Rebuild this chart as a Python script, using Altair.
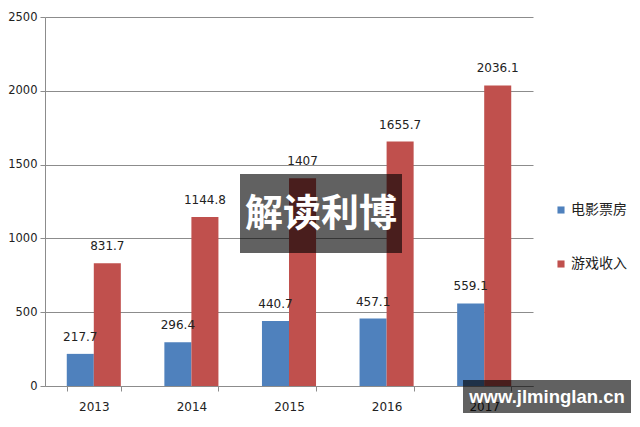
import altair as alt
import pandas as pd

years = ["2013", "2014", "2015", "2016", "2017"]
series = ["电影票房", "游戏收入"]
movie = [217.7, 296.4, 440.7, 457.1, 559.1]
games = [831.7, 1144.8, 1407, 1655.7, 2036.1]
colors = ["#4F81BD", "#C0504D"]
y_ticks = [0, 500, 1000, 1500, 2000, 2500]

rows = []
for i, y in enumerate(years):
    rows.append({"year": y, "series": series[0], "value": movie[i], "label": f"{movie[i]:g}"})
    rows.append({"year": y, "series": series[1], "value": games[i], "label": f"{games[i]:g}"})
df = pd.DataFrame(rows)

FONT = "DejaVu Sans"

x = alt.X("year:N", sort=years, title=None,
          scale=alt.Scale(paddingInner=0.446, paddingOuter=0.223),
          axis=alt.Axis(labelAngle=0, labelFont=FONT, labelFontSize=12, labelColor="#222",
                        domainColor="#8c8c8c", tickColor="#8c8c8c", tickBand="extent",
                        tickSize=5, labelPadding=10, grid=False))
y = alt.Y("value:Q", title=None,
          scale=alt.Scale(domain=[0, 2500], nice=False),
          axis=alt.Axis(values=y_ticks, format="d", labelFont=FONT, labelFontSize=11.5,
                        labelColor="#222", domainColor="#8c8c8c", tickColor="#8c8c8c",
                        tickSize=5, labelPadding=3, gridColor="#8c8c8c", gridWidth=1))
color = alt.Color("series:N", sort=series, title=None,
                  scale=alt.Scale(domain=series, range=colors),
                  legend=alt.Legend(orient="none", legendX=509, legendY=186, padding=0,
                                    symbolType="square", symbolSize=50, symbolStrokeWidth=0,
                                    labelFont="Noto Sans CJK SC", labelFontSize=14,
                                    labelColor="#222", rowPadding=40, labelOffset=3))
xo = alt.XOffset("series:N", sort=series)

bars = alt.Chart(df).mark_bar().encode(x=x, y=y, color=color, xOffset=xo)
labels = alt.Chart(df).mark_text(dy=-10, baseline="bottom", font=FONT, fontSize=12,
                                 color="#222").encode(x=x, y=y, xOffset=xo, text="label:N")

wm1_box = alt.Chart(pd.DataFrame({"t": ["解读利博"]})).mark_rect(color="#000000", opacity=0.62).encode(
    x=alt.value(195), x2=alt.value(357), y=alt.value(157), y2=alt.value(236))
wm1_txt = alt.Chart(pd.DataFrame({"t": ["解读利博"]})).mark_text(
    font="Noto Sans CJK SC", fontSize=38, fontWeight="bold", color="white",
    align="center", baseline="middle").encode(x=alt.value(276), y=alt.value(198), text="t:N")
wm2_box = alt.Chart(pd.DataFrame({"t": ["www.jlminglan.cn"]})).mark_rect(color="#000000", opacity=0.62).encode(
    x=alt.value(418), x2=alt.value(586), y=alt.value(363), y2=alt.value(396))
wm2_txt = alt.Chart(pd.DataFrame({"t": ["www.jlminglan.cn"]})).mark_text(
    font="Liberation Sans", fontSize=18.5, fontWeight="bold", color="white",
    align="center", baseline="middle").encode(x=alt.value(502), y=alt.value(380), text="t:N")

chart = alt.layer(bars, labels, wm1_box, wm1_txt, wm2_box, wm2_txt).properties(
    width=488, height=369,
    background="white",
    autosize=alt.AutoSizeParams(type="none"),
    padding={"left": 37, "top": 9, "right": 99, "bottom": 33},
).configure_view(strokeWidth=0, stroke="transparent")

chart.save("out.html", embed_options={"renderer": "svg", "actions": False})
